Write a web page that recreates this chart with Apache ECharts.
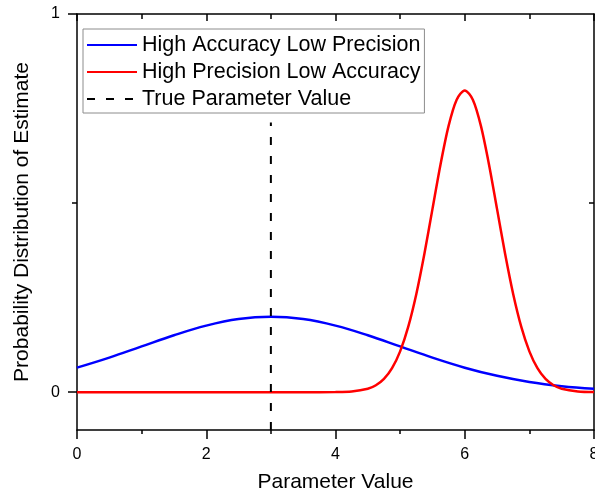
<!DOCTYPE html>
<html>
<head>
<meta charset="utf-8">
<script src="https://cdn.jsdelivr.net/npm/echarts@6/dist/echarts.min.js"></script>
<style>
  html, body { margin: 0; padding: 0; background: #fff; }
  #chart { width: 595px; height: 495px; }
</style>
</head>
<body>
<div id="chart"></div>
<script>
// Estimate distributions over the parameter axis
const seriesNames = [
  'High Accuracy Low Precision',
  'High Precision Low Accuracy',
  'True Parameter Value'
];

// Wide distribution centred on the true value
const wideX = [0, 0.5, 1, 1.5, 2, 2.5, 3, 3.5, 4, 4.5, 5, 5.5, 6, 6.5, 7, 7.5, 8];
const wideY = [0.0648, 0.0913, 0.1210, 0.1506, 0.1760, 0.1934, 0.1995, 0.1934, 0.1760,
               0.1506, 0.1210, 0.0913, 0.0648, 0.0432, 0.0270, 0.0159, 0.0088];

// Narrow distribution offset from the true value
const narrowX = [0, 1, 2, 3, 3.5, 4, 4.25, 4.5, 4.625, 4.75, 4.875, 5, 5.125, 5.25, 5.375,
                 5.5, 5.625, 5.75, 5.875, 6, 6.125, 6.25, 6.375, 6.5, 6.625, 6.75, 6.875,
                 7, 7.125, 7.25, 7.375, 7.5, 7.75, 8];
const narrowY = [0, 0, 0, 0, 0, 0.0003, 0.0017, 0.0089, 0.0182, 0.0350, 0.0635, 0.1080,
                 0.1726, 0.2591, 0.3653, 0.4840, 0.6023, 0.7043, 0.7734, 0.7979, 0.7734,
                 0.7043, 0.6023, 0.4840, 0.3653, 0.2591, 0.1726, 0.1080, 0.0635, 0.0350,
                 0.0182, 0.0089, 0.0017, 0.0003];

// Vertical marker at the true parameter
const trueX = [3, 3];
const trueY = [-0.1, 0.713];

const xTicks = [0, 2, 4, 6, 8];
const yLabels = [0, 1];

const pairs = (xs, ys) => xs.map((x, i) => [x, ys[i]]);

const FONT = "'Liberation Sans', Arial, sans-serif";
const AXIS_LINE = { show: true, onZero: false, lineStyle: { color: '#000', width: 1.5 } };

const chart = echarts.init(document.getElementById('chart'), null, { renderer: 'canvas' });

chart.setOption({
  animation: false,
  backgroundColor: '#fff',
  textStyle: { fontFamily: FONT, color: '#000' },
  grid: { left: 77, right: 1, top: 14, bottom: 65, containLabel: false, outerBoundsMode: 'none' },
  legend: {
    orient: 'vertical',
    left: 83,
    top: 29,
    padding: [5, 4, 3, 3],
    itemGap: 5,
    itemWidth: 50,
    itemHeight: 14,
    borderColor: '#8c8c8c',
    borderWidth: 1,
    backgroundColor: '#fff',
    // line-only keys: hide the marker dot drawn on each legend line
    itemStyle: { opacity: 0 },
    textStyle: { fontFamily: FONT, fontSize: 21.5, color: '#000', padding: [0, 0, 0, 0] },
    data: seriesNames
  },
  xAxis: [
    {
      type: 'value', position: 'bottom', min: xTicks[0], max: xTicks[xTicks.length - 1], interval: 2,
      axisLine: AXIS_LINE,
      axisTick: { show: true, inside: false, length: 9, lineStyle: { color: '#000', width: 1.5 } },
      minorTick: { show: true, splitNumber: 2, length: 4, lineStyle: { color: '#000', width: 1.5 } },
      splitLine: { show: false },
      axisLabel: { fontFamily: FONT, fontSize: 16, color: '#000', margin: 17 },
      name: 'Parameter Value', nameLocation: 'middle', nameGap: 42,
      nameTextStyle: { fontFamily: FONT, fontSize: 21, color: '#000' }
    },
    {
      type: 'value', position: 'top', min: xTicks[0], max: xTicks[xTicks.length - 1], interval: 2,
      axisLine: AXIS_LINE,
      axisTick: { show: true, inside: true, length: 7, lineStyle: { color: '#000', width: 1.5 } },
      minorTick: { show: true, splitNumber: 2, length: 5, lineStyle: { color: '#000', width: 1.5 } },
      splitLine: { show: false },
      axisLabel: { show: false }
    }
  ],
  yAxis: [
    {
      type: 'value', position: 'left', min: -0.1, max: 1,
      axisLine: AXIS_LINE,
      axisTick: { show: true, inside: false, length: 9, customValues: yLabels,
                  lineStyle: { color: '#000', width: 1.5 } },
      splitLine: { show: false },
      axisLabel: { fontFamily: FONT, fontSize: 16, color: '#000', margin: 17, customValues: yLabels },
      name: 'Probability Distribution of Estimate', nameLocation: 'middle', nameGap: 44,
      nameTextStyle: { fontFamily: FONT, fontSize: 21, color: '#000' }
    },
    {
      type: 'value', position: 'right', min: -0.1, max: 1,
      axisLine: AXIS_LINE,
      axisTick: { show: true, inside: true, length: 5, customValues: [0, 0.5],
                  lineStyle: { color: '#000', width: 1.5 } },
      splitLine: { show: false },
      axisLabel: { show: false }
    },
    {
      // short minor tick at the midpoint of the left axis
      type: 'value', position: 'left', min: -0.1, max: 1,
      axisLine: { show: false, onZero: false },
      axisTick: { show: true, inside: false, length: 5, customValues: [0.5],
                  lineStyle: { color: '#000', width: 1.5 } },
      splitLine: { show: false },
      axisLabel: { show: false }
    }
  ],
  series: [
    {
      name: seriesNames[0], type: 'line', xAxisIndex: 0, yAxisIndex: 0,
      data: pairs(wideX, wideY), smooth: 0.4, symbol: 'none',
      lineStyle: { color: '#0000ff', width: 2.5 }, itemStyle: { color: '#0000ff' }, z: 3
    },
    {
      name: seriesNames[1], type: 'line', xAxisIndex: 0, yAxisIndex: 0,
      data: pairs(narrowX, narrowY), smooth: 0.3, symbol: 'none',
      lineStyle: { color: '#ff0000', width: 2.5 }, itemStyle: { color: '#ff0000' }, z: 4
    },
    {
      name: seriesNames[2], type: 'line', xAxisIndex: 0, yAxisIndex: 0,
      data: pairs(trueX, trueY), symbol: 'none',
      lineStyle: { color: '#000', width: 2, type: [8, 11] }, itemStyle: { color: '#000' }, z: 5
    }
  ]
});
</script>
</body>
</html>
